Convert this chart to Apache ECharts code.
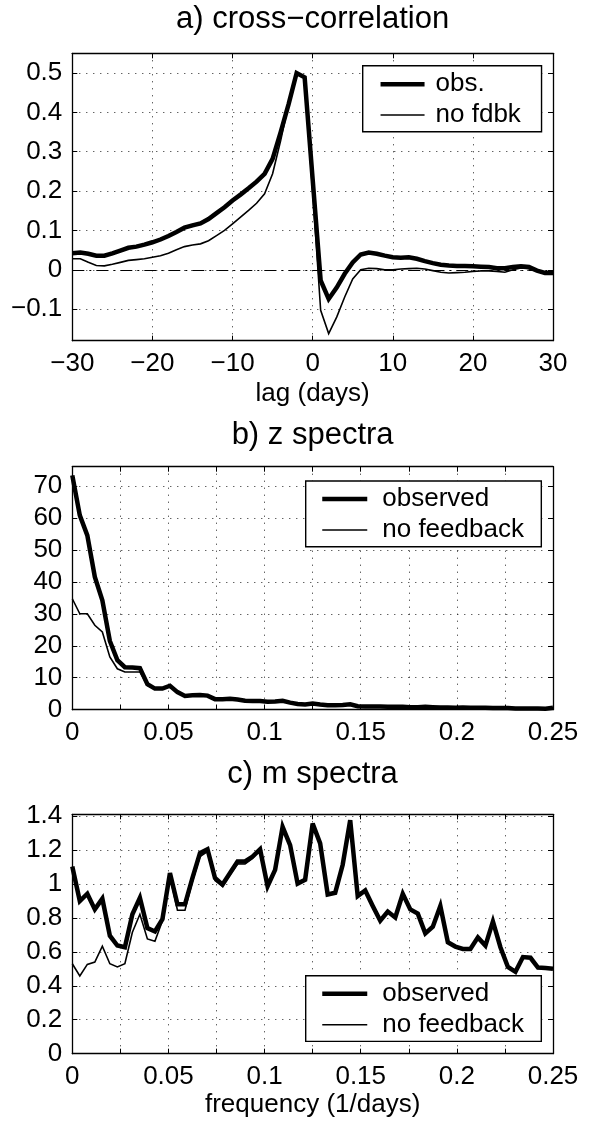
<!DOCTYPE html>
<html><head><meta charset="utf-8">
<script src="https://cdn.jsdelivr.net/npm/echarts@6/dist/echarts.min.js"></script>
<style>html,body{margin:0;padding:0;background:#fff}#c{width:589px;height:1127px}</style>
</head><body><div id="c"></div>
<script>
// ---- panel a: cross-correlation, lag -30..30 days ----
const lagMin = -30, lagMax = 30;
const ccObs = [0.042,0.044,0.041,0.036,0.036,0.042,0.049,0.056,0.059,0.064,
  0.070,0.077,0.086,0.096,0.107,0.113,0.118,0.129,0.144,0.159,
  0.176,0.191,0.207,0.224,0.244,0.282,0.349,0.421,0.500,0.489,
  0.230,
  -0.027,-0.074,-0.045,-0.010,0.019,0.039,0.044,0.041,0.036,0.032,
  0.031,0.032,0.028,0.022,0.017,0.013,0.011,0.010,0.010,0.009,
  0.008,0.007,0.004,0.004,0.007,0.009,0.007,-0.002,-0.008,-0.008];
const ccNoFb = [0.028,0.028,0.019,0.011,0.010,0.014,0.019,0.024,0.026,0.028,
  0.032,0.036,0.042,0.051,0.059,0.063,0.066,0.074,0.087,0.100,
  0.117,0.134,0.151,0.169,0.193,0.244,0.328,0.421,0.497,0.487,
  0.200,
  -0.103,-0.162,-0.120,-0.069,-0.023,0.000,0.004,0.003,0.000,0.000,
  0.002,0.003,0.004,0.002,-0.002,-0.006,-0.008,-0.007,-0.006,-0.004,
  -0.003,-0.003,-0.004,-0.006,0.000,0.005,0.003,-0.002,-0.008,-0.010];
const ccYTicks = [-0.1, 0, 0.1, 0.2, 0.3, 0.4, 0.5];

// ---- panels b, c: spectra on a frequency grid of 1/256 per day ----
const freqStep = 1 / 256;
const zObs = [73.3,60.8,54.5,41.5,34.2,21.5,15.5,13.3,13.2,13.0,
  8.0,6.6,6.6,7.5,5.5,4.3,4.5,4.6,4.4,3.3,
  3.3,3.4,3.2,2.8,2.7,2.7,2.5,2.6,2.8,2.2,
  1.8,1.6,1.9,1.6,1.4,1.4,1.5,1.7,1.1,1.0,
  1.0,1.0,0.9,0.9,0.9,0.8,0.8,0.9,0.8,0.7,
  0.7,0.6,0.7,0.6,0.6,0.6,0.5,0.5,0.5,0.4,
  0.4,0.4,0.4,0.3,0.6];
const zNoFb = [34.7,30.0,30.0,26.4,24.3,16.5,12.8,11.8,11.8,11.8,
  7.6,6.4,6.5,7.4,5.5,4.3,4.5,4.6,4.4,3.3,
  3.3,3.4,3.2,2.8,2.7,2.7,2.5,2.6,2.8,2.2,
  1.8,1.6,1.9,1.6,1.4,1.4,1.5,1.7,1.1,1.0,
  1.0,1.0,0.9,0.9,0.9,0.8,0.8,0.9,0.8,0.7,
  0.7,0.6,0.7,0.6,0.6,0.6,0.5,0.5,0.5,0.4,
  0.4,0.4,0.4,0.3,0.6];
const mObs = [1.103,0.899,0.942,0.850,0.913,0.695,0.637,0.627,0.821,0.918,
  0.740,0.720,0.792,1.064,0.880,0.880,1.035,1.181,1.204,1.035,
  0.996,1.064,1.132,1.132,1.161,1.204,0.986,1.083,1.336,1.229,
  1.002,1.025,1.355,1.239,0.938,0.948,1.113,1.375,0.928,0.961,
  0.870,0.783,0.837,0.802,0.942,0.850,0.825,0.709,0.748,0.870,
  0.656,0.631,0.617,0.617,0.685,0.637,0.779,0.627,0.511,0.482,
  0.569,0.565,0.507,0.505,0.501];
const mNoFb = [0.530,0.458,0.526,0.540,0.633,0.530,0.511,0.530,0.715,0.821,
  0.676,0.662,0.783,1.045,0.845,0.845,1.016,1.161,1.190,1.020,
  0.986,1.054,1.117,1.117,1.150,1.204,0.986,1.083,1.336,1.229,
  1.002,1.025,1.355,1.239,0.938,0.948,1.113,1.375,0.928,0.961,
  0.870,0.783,0.837,0.802,0.942,0.850,0.825,0.709,0.748,0.870,
  0.656,0.631,0.617,0.617,0.685,0.637,0.779,0.627,0.511,0.482,
  0.569,0.565,0.507,0.505,0.501];

const titles = ['a) cross\u2212correlation', 'b) z spectra', 'c) m spectra'];
const legendA = ['obs.', 'no fdbk'];
const legendBC = ['observed', 'no feedback'];

// ---- build ----
const lags = [];
for (let l = lagMin; l <= lagMax; l++) lags.push(l);
const freqs = zObs.map((_, i) => i * freqStep);
const pair = (xs, ys) => xs.map((x, i) => [x, ys[i]]);

const FONT = 'Liberation Sans';
const minus = s => String(s).replace('-', '\u2212');
const frame = { show: true, onZero: false, lineStyle: { color: '#000', width: 1.3 } };
const tick = { show: true, inside: true, length: 5, lineStyle: { color: '#000', width: 1 } };
const grid = { show: true, lineStyle: { color: '#222', width: 1, type: [1, 6] } };
const lab = (extra) => Object.assign({ color: '#000', fontSize: 26, fontFamily: FONT }, extra || {});

const G = [
  { left: 72.3, top: 53.3, width: 480.7, height: 287.4 },
  { left: 72.3, top: 466.7, width: 480.7, height: 243 },
  { left: 72.3, top: 814.3, width: 480.7, height: 239.4 }
];

const freqLabel = v => (Math.round(v * 1000) % 50 === 0) ? String(+v.toFixed(3)) : '';

const xAxis = [
  { gridIndex: 0, type: 'value', min: -30, max: 30, interval: 10, position: 'bottom',
    axisLine: frame, axisTick: tick, splitLine: grid,
    axisLabel: lab({ margin: 10, formatter: minus }),
    name: 'lag (days)', nameLocation: 'middle', nameGap: 40,
    nameTextStyle: { color: '#000', fontSize: 26, fontFamily: FONT } },
  { gridIndex: 0, type: 'value', min: -30, max: 30, interval: 10, position: 'top',
    axisLine: frame, axisTick: tick, splitLine: { show: false }, axisLabel: { show: false } },
  { gridIndex: 1, type: 'value', min: 0, max: 0.25, interval: 0.025, position: 'bottom',
    axisLine: frame, axisTick: tick, splitLine: grid,
    axisLabel: lab({ margin: 10, formatter: freqLabel }) },
  { gridIndex: 1, type: 'value', min: 0, max: 0.25, interval: 0.025, position: 'top',
    axisLine: frame, axisTick: tick, splitLine: { show: false }, axisLabel: { show: false } },
  { gridIndex: 2, type: 'value', min: 0, max: 0.25, interval: 0.025, position: 'bottom',
    axisLine: frame, axisTick: tick, splitLine: grid,
    axisLabel: lab({ margin: 10, formatter: freqLabel }),
    name: 'frequency (1/days)', nameLocation: 'middle', nameGap: 38,
    nameTextStyle: { color: '#000', fontSize: 26, fontFamily: FONT } },
  { gridIndex: 2, type: 'value', min: 0, max: 0.25, interval: 0.025, position: 'top',
    axisLine: frame, axisTick: tick, splitLine: { show: false }, axisLabel: { show: false } }
];

const yAxis = [
  { gridIndex: 0, type: 'value', min: -0.18, max: 0.55, position: 'left',
    axisLine: frame, axisTick: Object.assign({ customValues: ccYTicks }, tick), splitLine: grid,
    axisLabel: lab({ margin: 10, customValues: ccYTicks, formatter: minus }) },
  { gridIndex: 0, type: 'value', min: -0.18, max: 0.55, position: 'right',
    axisLine: frame, axisTick: Object.assign({ customValues: ccYTicks }, tick),
    splitLine: { show: false }, axisLabel: { show: false } },
  { gridIndex: 1, type: 'value', min: 0, max: 76, interval: 10, position: 'left',
    axisLine: frame, axisTick: tick, splitLine: grid,
    axisLabel: lab({ margin: 10, showMaxLabel: false }) },
  { gridIndex: 1, type: 'value', min: 0, max: 76, interval: 10, position: 'right',
    axisLine: frame, axisTick: tick, splitLine: { show: false }, axisLabel: { show: false } },
  { gridIndex: 2, type: 'value', min: 0, max: 1.41, interval: 0.2, position: 'left',
    axisLine: frame, axisTick: tick, splitLine: grid,
    axisLabel: lab({ margin: 10, showMaxLabel: false, formatter: v => String(+v.toFixed(2)) }) },
  { gridIndex: 2, type: 'value', min: 0, max: 1.41, interval: 0.2, position: 'right',
    axisLine: frame, axisTick: tick, splitLine: { show: false }, axisLabel: { show: false } }
];

const THICK = 4.5, THIN = 1.6;
const line = (name, xi, data, w, extra) => Object.assign({
  name, type: 'line', xAxisIndex: xi, yAxisIndex: xi, data, symbol: 'none', silent: true,
  lineStyle: { color: '#000', width: w, join: 'miter', miterLimit: 4 },
  itemStyle: { color: '#000' }, z: w > 2 ? 3 : 4
}, extra || {});

const series = [
  line(legendA[0], 0, pair(lags, ccObs), THICK, {
    markLine: { silent: true, symbol: 'none', label: { show: false },
      lineStyle: { color: '#000', width: 1.2, type: [12, 5, 2, 5] },
      data: [{ yAxis: 0 }] } }),
  line(legendA[1], 0, pair(lags, ccNoFb), THIN),
  line(legendBC[0], 2, pair(freqs, zObs), THICK),
  line(legendBC[1], 2, pair(freqs, zNoFb), THIN),
  line(legendBC[0], 4, pair(freqs, mObs), THICK),
  line(legendBC[1], 4, pair(freqs, mNoFb), THIN)
];

const hiddenSymbol = { opacity: 0, color: 'rgba(0,0,0,0)', borderWidth: 0 };
const legItem = (name, w) => ({ name, lineStyle: { width: w, color: '#000' }, itemStyle: hiddenSymbol });
const legendBase = {
  orient: 'vertical', itemHeight: 14, selectedMode: false,
  borderColor: '#000', borderWidth: 1.4, backgroundColor: '#fff', borderRadius: 0,
  itemStyle: hiddenSymbol,
  textStyle: { color: '#000', fontSize: 26, fontFamily: FONT, lineHeight: 26, padding: [0, 0, 0, 6] }
};
const legend = [
  Object.assign({}, legendBase, { left: 362.7, top: 65.7, itemWidth: 44, itemGap: 4.7,
    padding: [5.6, 20.7, 3.7, 15.6],
    data: [legItem(legendA[0], THICK), legItem(legendA[1], THIN)] }),
  Object.assign({}, legendBase, { left: 305.7, top: 481, itemWidth: 45, itemGap: 5,
    padding: [5, 17.4, 3.7, 14.3],
    textStyle: Object.assign({}, legendBase.textStyle, { padding: [0, 0, 0, 10] }),
    data: [legItem(legendBC[0], THICK), legItem(legendBC[1], THIN)] }),
  Object.assign({}, legendBase, { left: 305.7, top: 975.7, itemWidth: 45, itemGap: 5,
    padding: [5, 17.4, 3.7, 14.3],
    textStyle: Object.assign({}, legendBase.textStyle, { padding: [0, 0, 0, 10] }),
    data: [legItem(legendBC[0], THICK), legItem(legendBC[1], THIN)] })
];

const titleY = [19.5, 435.5, 774];
const graphic = titles.map((t, i) => ({
  type: 'text', x: 312.6, y: titleY[i], silent: true,
  style: { text: t, fill: '#000', fontSize: 31, fontFamily: FONT, align: 'center', verticalAlign: 'middle' }
}));

const chart = echarts.init(document.getElementById('c'), null, { renderer: 'canvas' });
chart.setOption({
  animation: false, backgroundColor: '#fff',
  grid: G, xAxis, yAxis, series, legend, graphic
});
</script></body></html>
